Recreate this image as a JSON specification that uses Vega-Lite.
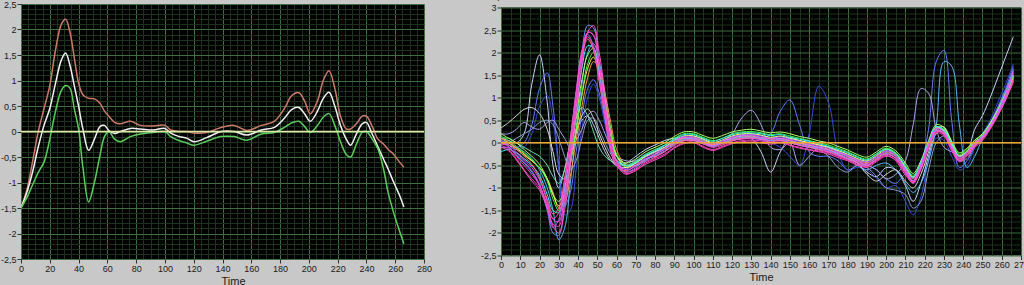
{
  "$schema": "https://vega.github.io/schema/vega-lite/v6.json",
  "background": "#c8c8c8",
  "padding": {"left": 0, "top": -10, "right": 0, "bottom": 0},
  "spacing": 48,
  "center": true,
  "resolve": {"scale": {"color": "independent"}},
  "config": {
    "view": {"fill": "#000000", "stroke": null},
    "axis": {
      "labelFont": "Liberation Sans", "labelFontSize": 9, "labelColor": "#1a1a1a",
      "titleFont": "Liberation Sans", "titleFontSize": 11, "titleFontWeight": "normal", "titleColor": "#1a1a1a",
      "domain": false, "tickColor": "#303030", "tickSize": 4, "labelPadding": 1, "titlePadding": 2,
      "labelOverlap": false, "labelFlush": false, "labelBound": false, "gridWidth": 1
    }
  },
  "hconcat": [
    {
      "width": 403, "height": 255,
      "data": {"values": [
        {"t":0,"r":-1.5,"w":-1.5,"g":-1.5},
        {"t":4,"r":-1.15,"w":-1.2,"g":-1.3},
        {"t":8,"r":-0.6,"w":-0.8,"g":-1.05},
        {"t":12,"r":0.0,"w":-0.3,"g":-0.8},
        {"t":16,"r":0.45,"w":0.12,"g":-0.6},
        {"t":20,"r":0.9,"w":0.45,"g":-0.15},
        {"t":24,"r":1.6,"w":0.95,"g":0.4},
        {"t":28,"r":2.1,"w":1.4,"g":0.8},
        {"t":31,"r":2.2,"w":1.54,"g":0.9},
        {"t":34,"r":1.95,"w":1.3,"g":0.85},
        {"t":37,"r":1.45,"w":0.9,"g":0.45},
        {"t":40,"r":0.95,"w":0.5,"g":0.05},
        {"t":43,"r":0.72,"w":0.05,"g":-0.7},
        {"t":47,"r":0.65,"w":-0.37,"g":-1.38},
        {"t":51,"r":0.64,"w":-0.15,"g":-1.0},
        {"t":55,"r":0.55,"w":0.1,"g":-0.45},
        {"t":58,"r":0.4,"w":0.12,"g":-0.1},
        {"t":61,"r":0.3,"w":0.02,"g":0.0},
        {"t":65,"r":0.18,"w":-0.04,"g":-0.15},
        {"t":69,"r":0.15,"w":0.0,"g":-0.2},
        {"t":76,"r":0.2,"w":0.06,"g":-0.1},
        {"t":83,"r":0.12,"w":0.05,"g":-0.05},
        {"t":92,"r":0.11,"w":0.03,"g":-0.02},
        {"t":100,"r":0.12,"w":0.06,"g":0.0},
        {"t":104,"r":0.03,"w":-0.03,"g":-0.1},
        {"t":110,"r":0.0,"w":-0.1,"g":-0.18},
        {"t":115,"r":0.0,"w":-0.13,"g":-0.22},
        {"t":120,"r":-0.03,"w":-0.2,"g":-0.27},
        {"t":129,"r":-0.02,"w":-0.12,"g":-0.19},
        {"t":139,"r":0.08,"w":0.0,"g":-0.1},
        {"t":148,"r":0.12,"w":0.0,"g":-0.1},
        {"t":157,"r":0.02,"w":-0.07,"g":-0.17},
        {"t":167,"r":0.12,"w":0.03,"g":-0.05},
        {"t":176,"r":0.2,"w":0.08,"g":-0.02},
        {"t":183,"r":0.45,"w":0.26,"g":0.08},
        {"t":188,"r":0.7,"w":0.43,"g":0.17},
        {"t":193,"r":0.76,"w":0.47,"g":0.2},
        {"t":197,"r":0.6,"w":0.35,"g":0.1},
        {"t":201,"r":0.35,"w":0.2,"g":-0.02},
        {"t":206,"r":0.6,"w":0.4,"g":0.12},
        {"t":210,"r":1.0,"w":0.65,"g":0.28},
        {"t":214,"r":1.19,"w":0.77,"g":0.35},
        {"t":218,"r":0.85,"w":0.5,"g":0.12},
        {"t":222,"r":0.3,"w":0.12,"g":-0.2},
        {"t":226,"r":0.05,"w":-0.15,"g":-0.45},
        {"t":229,"r":0.05,"w":-0.27,"g":-0.5},
        {"t":233,"r":0.15,"w":-0.05,"g":-0.25},
        {"t":237,"r":0.3,"w":0.15,"g":-0.02},
        {"t":240,"r":0.3,"w":0.18,"g":0.0},
        {"t":244,"r":0.1,"w":-0.05,"g":-0.15},
        {"t":248,"r":-0.15,"w":-0.3,"g":-0.34},
        {"t":252,"r":-0.25,"w":-0.55,"g":-0.75},
        {"t":255,"r":-0.35,"w":-0.73,"g":-1.19},
        {"t":259,"r":-0.45,"w":-1.0,"g":-1.6},
        {"t":263,"r":-0.6,"w":-1.25,"g":-1.95},
        {"t":266,"r":-0.7,"w":-1.48,"g":-2.2}
      ]},
      "layer": [
        {
          "transform": [{"fold": ["r", "w", "g"], "as": ["s", "v"]}],
          "mark": {"type": "line", "interpolate": "catmull-rom", "strokeWidth": 1.5, "clip": true},
          "encoding": {
            "x": {"field": "t", "type": "quantitative", "title": "Time",
              "scale": {"domain": [0, 280], "nice": false, "zero": false},
              "axis": {
                "labelOverlap": false, "titleX": 212,
                "values": [0,5,10,15,20,25,30,35,40,45,50,55,60,65,70,75,80,85,90,95,100,105,110,115,120,125,130,135,140,145,150,155,160,165,170,175,180,185,190,195,200,205,210,215,220,225,230,235,240,245,250,255,260,265,270,275,280],
                "labelExpr": "datum.value % 20 === 0 ? datum.label : ''",
                "gridColor": {"condition": {"test": "datum.value % 20 === 0", "value": "#3f6e3f"}, "value": "#1c321c"},
                "tickOpacity": {"condition": {"test": "datum.value % 20 === 0", "value": 1}, "value": 0}
              }},
            "y": {"field": "v", "type": "quantitative", "title": null,
              "scale": {"domain": [-2.5, 2.5], "nice": false, "zero": false},
              "axis": {
                "labelOverlap": false,
                "values": [-2.5,-2.4,-2.3,-2.2,-2.1,-2,-1.9,-1.8,-1.7,-1.6,-1.5,-1.4,-1.3,-1.2,-1.1,-1,-0.9,-0.8,-0.7,-0.6,-0.5,-0.4,-0.3,-0.2,-0.1,0,0.1,0.2,0.3,0.4,0.5,0.6,0.7,0.8,0.9,1,1.1,1.2,1.3,1.4,1.5,1.6,1.7,1.8,1.9,2,2.1,2.2,2.3,2.4,2.5],
                "labelExpr": "datum.value * 2 === round(datum.value * 2) ? replace(toString(datum.value), '.', ',') : ''",
                "gridColor": {"condition": {"test": "datum.value * 2 === round(datum.value * 2)", "value": "#3f6e3f"}, "value": "#1c321c"},
                "tickOpacity": {"condition": {"test": "datum.value * 2 === round(datum.value * 2)", "value": 1}, "value": 0}
              }},
            "color": {"field": "s", "type": "nominal", "legend": null,
              "scale": {"domain": ["r", "w", "g"], "range": ["#cc7a6a", "#f2f2f2", "#5ccc5c"]}}
          }
        },
        {
          "data": {"values": [{"v": 0}]},
          "mark": {"type": "rule", "color": "#e0e8a8", "strokeWidth": 1.5},
          "encoding": {
            "y": {"field": "v", "type": "quantitative", "title": null,
              "scale": {"domain": [-2.5, 2.5], "nice": false, "zero": false},
              "axis": {
                "labelOverlap": false,
                "values": [-2.5,-2.4,-2.3,-2.2,-2.1,-2,-1.9,-1.8,-1.7,-1.6,-1.5,-1.4,-1.3,-1.2,-1.1,-1,-0.9,-0.8,-0.7,-0.6,-0.5,-0.4,-0.3,-0.2,-0.1,0,0.1,0.2,0.3,0.4,0.5,0.6,0.7,0.8,0.9,1,1.1,1.2,1.3,1.4,1.5,1.6,1.7,1.8,1.9,2,2.1,2.2,2.3,2.4,2.5],
                "labelExpr": "datum.value * 2 === round(datum.value * 2) ? replace(toString(datum.value), '.', ',') : ''",
                "gridColor": {"condition": {"test": "datum.value * 2 === round(datum.value * 2)", "value": "#3f6e3f"}, "value": "#1c321c"},
                "tickOpacity": {"condition": {"test": "datum.value * 2 === round(datum.value * 2)", "value": 1}, "value": 0}
              }}
          }
        }
      ]
    },
    {
      "width": 520, "height": 248,
      "title": {"text": "Graph 3", "anchor": "start", "frame": "bounds", "fontSize": 10, "fontWeight": "normal", "font": "Liberation Sans", "color": "#1a1a1a", "offset": 3},
      "data": {"values": [
        {"t":0,"o1":0.1,"o2":0.0,"o3":-0.1,"o4":0.05,"o5":0.33,"o6":0.2,"o7":0.1,"o8":-0.05,"p01":0.0,"p02":0.1,"p03":0.15,"p04":0.2,"p05":-0.2,"p06":0.1,"p07":0.05,"p08":-0.1,"p09":0.05,"p10":0.0,"p11":-0.05,"p12":-0.1},
        {"t":4,"o1":0.05,"o2":-0.05,"o3":-0.1,"o4":0.0,"o5":0.45,"o6":0.2,"o7":0.1,"o8":0.0,"p01":-0.05,"p02":0.0,"p03":0.05,"p04":0.1,"p05":-0.15,"p06":0.02,"p07":-0.08,"p08":-0.12,"p09":-0.05,"p10":-0.1,"p11":-0.15,"p12":-0.18},
        {"t":8,"o1":0.0,"o2":-0.1,"o3":-0.15,"o4":-0.1,"o5":0.6,"o6":0.3,"o7":0.0,"o8":0.1,"p01":-0.15,"p02":-0.12,"p03":-0.08,"p04":0.0,"p05":-0.22,"p06":-0.12,"p07":-0.28,"p08":-0.25,"p09":-0.2,"p10":-0.3,"p11":-0.35,"p12":-0.38},
        {"t":12,"o1":0.2,"o2":0.0,"o3":-0.1,"o4":-0.2,"o5":0.74,"o6":0.45,"o7":-0.1,"o8":0.2,"p01":-0.28,"p02":-0.25,"p03":-0.22,"p04":-0.15,"p05":-0.35,"p06":-0.3,"p07":-0.45,"p08":-0.42,"p09":-0.38,"p10":-0.5,"p11":-0.6,"p12":-0.62},
        {"t":16,"o1":1.3,"o2":0.4,"o3":0.2,"o4":-0.35,"o5":0.78,"o6":0.35,"o7":-0.2,"o8":0.3,"p01":-0.4,"p02":-0.4,"p03":-0.38,"p04":-0.3,"p05":-0.5,"p06":-0.48,"p07":-0.65,"p08":-0.62,"p09":-0.55,"p10":-0.7,"p11":-0.8,"p12":-0.85},
        {"t":20,"o1":1.95,"o2":1.2,"o3":0.8,"o4":-0.6,"o5":0.65,"o6":0.3,"o7":-0.3,"o8":0.45,"p01":-0.55,"p02":-0.55,"p03":-0.55,"p04":-0.48,"p05":-0.72,"p06":-0.78,"p07":-0.95,"p08":-0.92,"p09":-0.82,"p10":-0.95,"p11":-1.0,"p12":-1.05},
        {"t":24,"o1":0.9,"o2":1.55,"o3":1.05,"o4":-1.0,"o5":0.3,"o6":0.45,"o7":-0.5,"o8":0.5,"p01":-0.8,"p02":-0.8,"p03":-0.85,"p04":-0.8,"p05":-1.15,"p06":-1.25,"p07":-1.5,"p08":-1.45,"p09":-1.3,"p10":-1.35,"p11":-1.4,"p12":-1.45},
        {"t":27,"o1":-0.5,"o2":0.8,"o3":0.5,"o4":-1.5,"o5":-0.2,"o6":0.5,"o7":-0.75,"o8":0.4,"p01":-1.1,"p02":-1.15,"p03":-1.25,"p04":-1.15,"p05":-1.5,"p06":-1.58,"p07":-2.0,"p08":-1.88,"p09":-1.7,"p10":-1.68,"p11":-1.8,"p12":-1.85},
        {"t":30,"o1":-1.0,"o2":-0.5,"o3":-0.6,"o4":-2.15,"o5":-0.7,"o6":0.3,"o7":-0.9,"o8":0.1,"p01":-1.45,"p02":-1.4,"p03":-1.5,"p04":-1.3,"p05":-1.55,"p06":-1.45,"p07":-2.05,"p08":-1.7,"p09":-1.75,"p10":-1.55,"p11":-1.85,"p12":-2.0},
        {"t":33,"o1":-0.6,"o2":-1.4,"o3":-1.6,"o4":-1.9,"o5":-0.8,"o6":0.1,"o7":-0.6,"o8":-0.3,"p01":-1.35,"p02":-1.15,"p03":-1.25,"p04":-1.0,"p05":-1.05,"p06":-0.8,"p07":-1.35,"p08":-0.95,"p09":-1.15,"p10":-0.85,"p11":-1.25,"p12":-1.5},
        {"t":36,"o1":0.0,"o2":-1.1,"o3":-1.5,"o4":-0.9,"o5":-0.4,"o6":-0.1,"o7":0.0,"o8":-0.6,"p01":-0.75,"p02":-0.45,"p03":-0.5,"p04":-0.3,"p05":-0.2,"p06":0.1,"p07":-0.25,"p08":0.05,"p09":-0.2,"p10":0.05,"p11":-0.25,"p12":-0.5},
        {"t":39,"o1":0.3,"o2":-0.2,"o3":-0.6,"o4":0.3,"o5":0.2,"o6":0.05,"o7":0.55,"o8":-0.4,"p01":0.05,"p02":0.28,"p03":0.3,"p04":0.55,"p05":0.78,"p06":1.1,"p07":0.95,"p08":1.15,"p09":0.9,"p10":1.1,"p11":0.85,"p12":0.6},
        {"t":42,"o1":0.5,"o2":0.6,"o3":0.3,"o4":1.3,"o5":0.6,"o6":0.3,"o7":0.78,"o8":0.1,"p01":0.8,"p02":1.05,"p03":1.1,"p04":1.4,"p05":1.65,"p06":1.95,"p07":2.0,"p08":2.05,"p09":1.9,"p10":2.0,"p11":1.85,"p12":1.7},
        {"t":45,"o1":0.6,"o2":1.2,"o3":1.0,"o4":2.0,"o5":0.75,"o6":0.6,"o7":0.6,"o8":0.5,"p01":1.45,"p02":1.65,"p03":1.75,"p04":1.95,"p05":2.15,"p06":2.3,"p07":2.6,"p08":2.4,"p09":2.45,"p10":2.35,"p11":2.45,"p12":2.45},
        {"t":48,"o1":0.4,"o2":1.4,"o3":1.3,"o4":2.2,"o5":0.55,"o6":0.7,"o7":0.25,"o8":0.55,"p01":1.8,"p02":1.9,"p03":2.0,"p04":2.1,"p05":2.1,"p06":2.05,"p07":2.55,"p08":2.15,"p09":2.38,"p10":2.1,"p11":2.4,"p12":2.6},
        {"t":51,"o1":0.1,"o2":1.1,"o3":1.0,"o4":1.8,"o5":0.2,"o6":0.5,"o7":-0.1,"o8":0.3,"p01":1.65,"p02":1.55,"p03":1.65,"p04":1.65,"p05":1.5,"p06":1.35,"p07":1.8,"p08":1.45,"p09":1.7,"p10":1.4,"p11":1.7,"p12":2.0},
        {"t":54,"o1":-0.2,"o2":0.5,"o3":0.4,"o4":1.0,"o5":-0.1,"o6":0.2,"o7":-0.3,"o8":0.0,"p01":1.1,"p02":0.95,"p03":1.0,"p04":0.9,"p05":0.72,"p06":0.55,"p07":0.85,"p08":0.6,"p09":0.82,"p10":0.6,"p11":0.85,"p12":1.1},
        {"t":57,"o1":-0.4,"o2":-0.1,"o3":-0.2,"o4":0.2,"o5":-0.35,"o6":-0.1,"o7":-0.4,"o8":-0.25,"p01":0.45,"p02":0.28,"p03":0.3,"p04":0.15,"p05":0.0,"p06":-0.18,"p07":-0.05,"p08":-0.15,"p09":0.0,"p10":-0.15,"p11":0.0,"p12":0.2},
        {"t":60,"o1":-0.5,"o2":-0.4,"o3":-0.5,"o4":-0.3,"o5":-0.5,"o6":-0.3,"o7":-0.45,"o8":-0.4,"p01":-0.15,"p02":-0.28,"p03":-0.25,"p04":-0.3,"p05":-0.38,"p06":-0.52,"p07":-0.5,"p08":-0.5,"p09":-0.42,"p10":-0.5,"p11":-0.45,"p12":-0.4},
        {"t":65,"o1":-0.45,"o2":-0.5,"o3":-0.55,"o4":-0.5,"o5":-0.55,"o6":-0.4,"o7":-0.5,"o8":-0.5,"p01":-0.5,"p02":-0.55,"p03":-0.5,"p04":-0.45,"p05":-0.52,"p06":-0.62,"p07":-0.65,"p08":-0.58,"p09":-0.6,"p10":-0.7,"p11":-0.68,"p12":-0.65},
        {"t":70,"o1":-0.3,"o2":-0.4,"o3":-0.45,"o4":-0.5,"o5":-0.45,"o6":-0.4,"o7":-0.45,"o8":-0.4,"p01":-0.5,"p02":-0.45,"p03":-0.42,"p04":-0.36,"p05":-0.44,"p06":-0.5,"p07":-0.55,"p08":-0.48,"p09":-0.52,"p10":-0.6,"p11":-0.62,"p12":-0.58},
        {"t":75,"o1":-0.15,"o2":-0.25,"o3":-0.3,"o4":-0.4,"o5":-0.3,"o6":-0.3,"o7":-0.3,"o8":-0.3,"p01":-0.38,"p02":-0.3,"p03":-0.26,"p04":-0.2,"p05":-0.28,"p06":-0.36,"p07":-0.38,"p08":-0.33,"p09":-0.36,"p10":-0.48,"p11":-0.45,"p12":-0.42},
        {"t":80,"o1":-0.05,"o2":-0.15,"o3":-0.2,"o4":-0.25,"o5":-0.2,"o6":-0.2,"o7":-0.2,"o8":-0.2,"p01":-0.25,"p02":-0.2,"p03":-0.15,"p04":-0.1,"p05":-0.18,"p06":-0.3,"p07":-0.28,"p08":-0.22,"p09":-0.26,"p10":-0.38,"p11":-0.35,"p12":-0.32},
        {"t":85,"o1":0.05,"o2":-0.05,"o3":-0.1,"o4":-0.1,"o5":-0.1,"o6":-0.1,"o7":-0.1,"o8":-0.12,"p01":-0.15,"p02":-0.1,"p03":-0.05,"p04":0.0,"p05":-0.06,"p06":-0.2,"p07":-0.18,"p08":-0.12,"p09":-0.14,"p10":-0.28,"p11":-0.25,"p12":-0.2},
        {"t":90,"o1":0.1,"o2":0.05,"o3":0.0,"o4":0.05,"o5":0.0,"o6":0.0,"o7":0.05,"o8":-0.02,"p01":0.0,"p02":0.05,"p03":0.1,"p04":0.14,"p05":0.08,"p06":-0.04,"p07":-0.02,"p08":0.04,"p09":0.02,"p10":-0.12,"p11":-0.1,"p12":-0.06},
        {"t":95,"o1":0.1,"o2":0.1,"o3":0.08,"o4":0.1,"o5":0.1,"o6":0.05,"o7":0.15,"o8":0.05,"p01":0.1,"p02":0.15,"p03":0.2,"p04":0.24,"p05":0.18,"p06":0.06,"p07":0.08,"p08":0.14,"p09":0.12,"p10":-0.02,"p11":0.0,"p12":0.04},
        {"t":100,"o1":0.08,"o2":0.1,"o3":0.1,"o4":0.08,"o5":0.1,"o6":0.05,"o7":0.15,"o8":0.08,"p01":0.12,"p02":0.15,"p03":0.2,"p04":0.24,"p05":0.18,"p06":0.06,"p07":0.08,"p08":0.13,"p09":0.1,"p10":0.0,"p11":0.02,"p12":0.05},
        {"t":105,"o1":0.0,"o2":0.05,"o3":0.05,"o4":0.0,"o5":0.05,"o6":0.0,"o7":0.08,"o8":0.02,"p01":0.04,"p02":0.08,"p03":0.12,"p04":0.16,"p05":0.1,"p06":-0.02,"p07":0.0,"p08":0.05,"p09":0.0,"p10":-0.1,"p11":-0.08,"p12":-0.03},
        {"t":110,"o1":-0.05,"o2":-0.05,"o3":-0.05,"o4":-0.05,"o5":0.0,"o6":-0.05,"o7":0.0,"o8":-0.06,"p01":-0.04,"p02":0.0,"p03":0.05,"p04":0.1,"p05":0.03,"p06":-0.08,"p07":-0.08,"p08":-0.02,"p09":-0.06,"p10":-0.17,"p11":-0.15,"p12":-0.1},
        {"t":115,"o1":0.05,"o2":0.0,"o3":0.0,"o4":0.0,"o5":0.05,"o6":0.05,"o7":0.06,"o8":0.0,"p01":0.0,"p02":0.06,"p03":0.1,"p04":0.16,"p05":0.1,"p06":-0.02,"p07":0.0,"p08":0.05,"p09":0.02,"p10":-0.1,"p11":-0.08,"p12":-0.05},
        {"t":120,"o1":0.1,"o2":0.08,"o3":0.05,"o4":0.05,"o5":0.1,"o6":0.2,"o7":0.14,"o8":0.06,"p01":0.08,"p02":0.15,"p03":0.2,"p04":0.24,"p05":0.18,"p06":0.06,"p07":0.08,"p08":0.13,"p09":0.1,"p10":-0.02,"p11":0.0,"p12":0.04},
        {"t":125,"o1":0.15,"o2":0.1,"o3":0.1,"o4":0.1,"o5":0.15,"o6":0.55,"o7":0.18,"o8":0.1,"p01":0.12,"p02":0.2,"p03":0.24,"p04":0.28,"p05":0.22,"p06":0.1,"p07":0.12,"p08":0.17,"p09":0.16,"p10":0.02,"p11":0.05,"p12":0.08},
        {"t":130,"o1":0.1,"o2":0.12,"o3":0.1,"o4":0.12,"o5":0.15,"o6":0.72,"o7":0.2,"o8":0.12,"p01":0.14,"p02":0.2,"p03":0.25,"p04":0.3,"p05":0.22,"p06":0.12,"p07":0.13,"p08":0.18,"p09":0.17,"p10":0.04,"p11":0.06,"p12":0.1},
        {"t":135,"o1":-0.2,"o2":0.1,"o3":0.05,"o4":0.08,"o5":0.1,"o6":0.4,"o7":0.16,"o8":0.1,"p01":0.12,"p02":0.17,"p03":0.22,"p04":0.26,"p05":0.2,"p06":0.08,"p07":0.1,"p08":0.15,"p09":0.12,"p10":0.0,"p11":0.04,"p12":0.07},
        {"t":140,"o1":-0.65,"o2":0.2,"o3":0.0,"o4":0.05,"o5":0.1,"o6":-0.1,"o7":0.12,"o8":0.05,"p01":0.08,"p02":0.12,"p03":0.18,"p04":0.22,"p05":0.16,"p06":0.04,"p07":0.05,"p08":0.1,"p09":0.08,"p10":-0.03,"p11":0.0,"p12":0.02},
        {"t":145,"o1":-0.2,"o2":0.7,"o3":-0.1,"o4":0.05,"o5":0.1,"o6":-0.15,"o7":0.14,"o8":0.05,"p01":0.08,"p02":0.15,"p03":0.2,"p04":0.24,"p05":0.18,"p06":0.06,"p07":0.08,"p08":0.13,"p09":0.1,"p10":0.0,"p11":0.02,"p12":0.05},
        {"t":150,"o1":0.1,"o2":0.95,"o3":-0.3,"o4":0.0,"o5":0.05,"o6":0.0,"o7":0.1,"o8":0.0,"p01":0.04,"p02":0.1,"p03":0.15,"p04":0.2,"p05":0.12,"p06":0.0,"p07":0.02,"p08":0.08,"p09":0.06,"p10":-0.06,"p11":-0.05,"p12":0.0},
        {"t":155,"o1":0.05,"o2":0.4,"o3":-0.5,"o4":-0.05,"o5":0.0,"o6":-0.5,"o7":0.04,"o8":-0.05,"p01":-0.02,"p02":0.05,"p03":0.1,"p04":0.14,"p05":0.08,"p06":-0.05,"p07":-0.04,"p08":0.03,"p09":0.0,"p10":-0.12,"p11":-0.1,"p12":-0.06},
        {"t":160,"o1":0.0,"o2":-0.2,"o3":0.2,"o4":-0.1,"o5":-0.05,"o6":-0.3,"o7":0.0,"o8":-0.1,"p01":-0.06,"p02":0.0,"p03":0.05,"p04":0.1,"p05":0.03,"p06":-0.1,"p07":-0.08,"p08":-0.02,"p09":-0.04,"p10":-0.16,"p11":-0.15,"p12":-0.1},
        {"t":165,"o1":-0.05,"o2":-0.3,"o3":1.25,"o4":-0.1,"o5":-0.1,"o6":-0.1,"o7":-0.05,"o8":-0.15,"p01":-0.1,"p02":-0.05,"p03":0.0,"p04":0.04,"p05":-0.02,"p06":-0.14,"p07":-0.12,"p08":-0.07,"p09":-0.1,"p10":-0.2,"p11":-0.18,"p12":-0.15},
        {"t":170,"o1":-0.1,"o2":-0.3,"o3":0.9,"o4":-0.15,"o5":-0.15,"o6":-0.1,"o7":-0.1,"o8":-0.3,"p01":-0.15,"p02":-0.1,"p03":-0.05,"p04":0.0,"p05":-0.08,"p06":-0.2,"p07":-0.18,"p08":-0.12,"p09":-0.16,"p10":-0.25,"p11":-0.22,"p12":-0.2},
        {"t":175,"o1":-0.2,"o2":-0.4,"o3":-0.2,"o4":-0.25,"o5":-0.25,"o6":-0.2,"o7":-0.18,"o8":-0.55,"p01":-0.22,"p02":-0.17,"p03":-0.12,"p04":-0.08,"p05":-0.15,"p06":-0.26,"p07":-0.25,"p08":-0.2,"p09":-0.22,"p10":-0.33,"p11":-0.3,"p12":-0.28},
        {"t":180,"o1":-0.3,"o2":-0.6,"o3":-0.6,"o4":-0.35,"o5":-0.35,"o6":-0.3,"o7":-0.26,"o8":-0.65,"p01":-0.3,"p02":-0.25,"p03":-0.2,"p04":-0.16,"p05":-0.22,"p06":-0.34,"p07":-0.34,"p08":-0.27,"p09":-0.3,"p10":-0.4,"p11":-0.38,"p12":-0.36},
        {"t":185,"o1":-0.45,"o2":-0.5,"o3":-0.55,"o4":-0.5,"o5":-0.45,"o6":-0.4,"o7":-0.36,"o8":-0.5,"p01":-0.38,"p02":-0.35,"p03":-0.3,"p04":-0.26,"p05":-0.32,"p06":-0.42,"p07":-0.44,"p08":-0.37,"p09":-0.4,"p10":-0.5,"p11":-0.48,"p12":-0.45},
        {"t":190,"o1":-0.65,"o2":-0.5,"o3":-0.6,"o4":-0.6,"o5":-0.7,"o6":-0.5,"o7":-0.42,"o8":-0.55,"p01":-0.44,"p02":-0.4,"p03":-0.36,"p04":-0.32,"p05":-0.38,"p06":-0.48,"p07":-0.5,"p08":-0.42,"p09":-0.46,"p10":-0.52,"p11":-0.55,"p12":-0.5},
        {"t":195,"o1":-0.75,"o2":-0.6,"o3":-0.8,"o4":-0.5,"o5":-0.85,"o6":-0.6,"o7":-0.3,"o8":-0.75,"p01":-0.34,"p02":-0.28,"p03":-0.24,"p04":-0.2,"p05":-0.25,"p06":-0.36,"p07":-0.36,"p08":-0.3,"p09":-0.32,"p10":-0.4,"p11":-0.42,"p12":-0.38},
        {"t":200,"o1":-0.55,"o2":-0.8,"o3":-1.0,"o4":-0.45,"o5":-0.7,"o6":-0.8,"o7":-0.18,"o8":-1.0,"p01":-0.22,"p02":-0.15,"p03":-0.12,"p04":-0.08,"p05":-0.14,"p06":-0.24,"p07":-0.24,"p08":-0.18,"p09":-0.2,"p10":-0.28,"p11":-0.3,"p12":-0.26},
        {"t":205,"o1":-0.6,"o2":-0.9,"o3":-0.95,"o4":-0.6,"o5":-0.6,"o6":-0.7,"o7":-0.28,"o8":-1.05,"p01":-0.3,"p02":-0.25,"p03":-0.22,"p04":-0.18,"p05":-0.24,"p06":-0.34,"p07":-0.34,"p08":-0.28,"p09":-0.3,"p10":-0.4,"p11":-0.38,"p12":-0.35},
        {"t":210,"o1":-0.95,"o2":-0.7,"o3":-1.3,"o4":-0.9,"o5":-0.85,"o6":-0.4,"o7":-0.56,"o8":-1.15,"p01":-0.58,"p02":-0.55,"p03":-0.5,"p04":-0.45,"p05":-0.52,"p06":-0.62,"p07":-0.64,"p08":-0.58,"p09":-0.6,"p10":-0.72,"p11":-0.68,"p12":-0.65},
        {"t":214,"o1":-1.3,"o2":-0.9,"o3":-1.6,"o4":-1.1,"o5":-1.0,"o6":0.4,"o7":-0.78,"o8":-1.45,"p01":-0.8,"p02":-0.76,"p03":-0.72,"p04":-0.68,"p05":-0.75,"p06":-0.84,"p07":-0.88,"p08":-0.8,"p09":-0.84,"p10":-0.88,"p11":-0.9,"p12":-0.86},
        {"t":218,"o1":-0.9,"o2":-0.5,"o3":-1.2,"o4":-0.9,"o5":-0.7,"o6":1.2,"o7":-0.46,"o8":-1.3,"p01":-0.52,"p02":-0.48,"p03":-0.45,"p04":-0.4,"p05":-0.44,"p06":-0.52,"p07":-0.54,"p08":-0.48,"p09":-0.5,"p10":-0.55,"p11":-0.6,"p12":-0.58},
        {"t":222,"o1":-0.3,"o2":0.3,"o3":-0.4,"o4":-0.4,"o5":-0.2,"o6":1.1,"o7":0.0,"o8":-0.6,"p01":-0.06,"p02":-0.02,"p03":0.0,"p04":0.05,"p05":0.02,"p06":-0.08,"p07":-0.08,"p08":-0.02,"p09":-0.04,"p10":-0.1,"p11":-0.12,"p12":-0.1},
        {"t":226,"o1":0.2,"o2":1.8,"o3":0.1,"o4":0.4,"o5":0.3,"o6":0.3,"o7":0.34,"o8":0.0,"p01":0.28,"p02":0.33,"p03":0.35,"p04":0.4,"p05":0.36,"p06":0.28,"p07":0.28,"p08":0.32,"p09":0.32,"p10":0.25,"p11":0.22,"p12":0.26},
        {"t":230,"o1":0.3,"o2":2.05,"o3":0.05,"o4":1.8,"o5":0.35,"o6":-0.1,"o7":0.26,"o8":0.15,"p01":0.22,"p02":0.26,"p03":0.3,"p04":0.34,"p05":0.28,"p06":0.2,"p07":0.2,"p08":0.24,"p09":0.24,"p10":0.18,"p11":0.15,"p12":0.2},
        {"t":234,"o1":0.0,"o2":0.5,"o3":-0.3,"o4":1.7,"o5":0.0,"o6":-0.2,"o7":-0.06,"o8":-0.1,"p01":-0.08,"p02":-0.05,"p03":0.0,"p04":0.04,"p05":-0.04,"p06":-0.12,"p07":-0.14,"p08":-0.08,"p09":-0.1,"p10":-0.15,"p11":-0.18,"p12":-0.12},
        {"t":238,"o1":-0.3,"o2":-0.55,"o3":-0.6,"o4":0.4,"o5":-0.3,"o6":-0.3,"o7":-0.3,"o8":-0.4,"p01":-0.32,"p02":-0.28,"p03":-0.25,"p04":-0.22,"p05":-0.3,"p06":-0.36,"p07":-0.4,"p08":-0.32,"p09":-0.35,"p10":-0.4,"p11":-0.42,"p12":-0.38},
        {"t":242,"o1":-0.2,"o2":-0.4,"o3":-0.5,"o4":-0.55,"o5":-0.2,"o6":-0.2,"o7":-0.2,"o8":-0.35,"p01":-0.22,"p02":-0.18,"p03":-0.15,"p04":-0.12,"p05":-0.2,"p06":-0.24,"p07":-0.28,"p08":-0.2,"p09":-0.22,"p10":-0.28,"p11":-0.3,"p12":-0.26},
        {"t":246,"o1":0.3,"o2":-0.1,"o3":-0.1,"o4":-0.3,"o5":0.0,"o6":0.0,"o7":0.0,"o8":-0.05,"p01":-0.02,"p02":0.02,"p03":0.05,"p04":0.06,"p05":0.0,"p06":-0.04,"p07":-0.06,"p08":0.0,"p09":0.0,"p10":-0.08,"p11":-0.1,"p12":-0.06},
        {"t":250,"o1":0.6,"o2":0.2,"o3":0.2,"o4":0.1,"o5":0.15,"o6":0.15,"o7":0.14,"o8":0.15,"p01":0.12,"p02":0.15,"p03":0.18,"p04":0.2,"p05":0.15,"p06":0.1,"p07":0.08,"p08":0.14,"p09":0.14,"p10":0.08,"p11":0.05,"p12":0.1},
        {"t":254,"o1":1.0,"o2":0.45,"o3":0.5,"o4":0.4,"o5":0.4,"o6":0.4,"o7":0.38,"o8":0.4,"p01":0.34,"p02":0.4,"p03":0.42,"p04":0.44,"p05":0.36,"p06":0.34,"p07":0.32,"p08":0.38,"p09":0.38,"p10":0.32,"p11":0.3,"p12":0.33},
        {"t":258,"o1":1.45,"o2":0.8,"o3":0.9,"o4":0.75,"o5":0.7,"o6":0.7,"o7":0.68,"o8":0.7,"p01":0.62,"p02":0.7,"p03":0.72,"p04":0.74,"p05":0.66,"p06":0.64,"p07":0.64,"p08":0.68,"p09":0.7,"p10":0.62,"p11":0.6,"p12":0.62},
        {"t":262,"o1":1.9,"o2":1.2,"o3":1.3,"o4":1.15,"o5":1.05,"o6":1.0,"o7":1.02,"o8":1.05,"p01":0.96,"p02":1.02,"p03":1.05,"p04":1.1,"p05":1.0,"p06":0.98,"p07":1.05,"p08":1.05,"p09":1.08,"p10":0.98,"p11":0.95,"p12":0.96},
        {"t":266,"o1":2.35,"o2":1.7,"o3":1.75,"o4":1.6,"o5":1.5,"o6":1.45,"o7":1.45,"o8":1.45,"p01":1.35,"p02":1.48,"p03":1.5,"p04":1.55,"p05":1.42,"p06":1.42,"p07":1.65,"p08":1.55,"p09":1.6,"p10":1.4,"p11":1.35,"p12":1.38}
      ]},
      "layer": [
        {
          "transform": [{"fold": ["o1","o2","o3","o4","o5","o6","o7","o8","p01","p02","p03","p04","p05","p06","p07","p08","p09","p10","p11","p12"], "as": ["s", "v"]}],
          "mark": {"type": "line", "interpolate": "catmull-rom", "strokeWidth": 1, "clip": true},
          "encoding": {
            "x": {"field": "t", "type": "quantitative", "title": "Time",
              "scale": {"domain": [0, 270], "nice": false, "zero": false},
              "axis": {
                "labelOverlap": false,
                "values": [0,5,10,15,20,25,30,35,40,45,50,55,60,65,70,75,80,85,90,95,100,105,110,115,120,125,130,135,140,145,150,155,160,165,170,175,180,185,190,195,200,205,210,215,220,225,230,235,240,245,250,255,260,265,270],
                "labelExpr": "datum.value % 10 === 0 ? datum.label : ''",
                "gridColor": {"condition": {"test": "datum.value % 10 === 0", "value": "#3f6e3f"}, "value": "#1c321c"},
                "tickOpacity": {"condition": {"test": "datum.value % 10 === 0", "value": 1}, "value": 0}
              }},
            "y": {"field": "v", "type": "quantitative", "title": null,
              "scale": {"domain": [-2.5, 3], "nice": false, "zero": false},
              "axis": {
                "labelOverlap": false,
                "values": [-2.5,-2.375,-2.25,-2.125,-2,-1.875,-1.75,-1.625,-1.5,-1.375,-1.25,-1.125,-1,-0.875,-0.75,-0.625,-0.5,-0.375,-0.25,-0.125,0,0.125,0.25,0.375,0.5,0.625,0.75,0.875,1,1.125,1.25,1.375,1.5,1.625,1.75,1.875,2,2.125,2.25,2.375,2.5,2.625,2.75,2.875,3],
                "labelExpr": "datum.value * 2 === round(datum.value * 2) ? replace(toString(datum.value), '.', ',') : ''",
                "gridColor": {"condition": {"test": "datum.value * 2 === round(datum.value * 2)", "value": "#3f6e3f"}, "value": "#1c321c"},
                "tickOpacity": {"condition": {"test": "datum.value * 2 === round(datum.value * 2)", "value": 1}, "value": 0}
              }},
            "color": {"field": "s", "type": "nominal", "legend": null,
              "scale": {
                "domain": ["o1","o2","o3","o4","o5","o6","o7","o8","p01","p02","p03","p04","p05","p06","p07","p08","p09","p10","p11","p12"],
                "range": ["#c8d4ff","#6a7cff","#3a4ad8","#58b8f8","#dcdcdc","#b4a4ec","#70e0b0","#8c9cd0","#ffa040","#ffff50","#40ff40","#b0ff70","#40f0ff","#ff7878","#7890ff","#a868ff","#e858ff","#ff48c8","#ff40b8","#ff58d0"]}}
          }
        },
        {
          "data": {"values": [{"v": 0}]},
          "mark": {"type": "rule", "color": "#f0a830", "strokeWidth": 1.5},
          "encoding": {
            "y": {"field": "v", "type": "quantitative", "title": null,
              "scale": {"domain": [-2.5, 3], "nice": false, "zero": false},
              "axis": {
                "labelOverlap": false,
                "values": [-2.5,-2.375,-2.25,-2.125,-2,-1.875,-1.75,-1.625,-1.5,-1.375,-1.25,-1.125,-1,-0.875,-0.75,-0.625,-0.5,-0.375,-0.25,-0.125,0,0.125,0.25,0.375,0.5,0.625,0.75,0.875,1,1.125,1.25,1.375,1.5,1.625,1.75,1.875,2,2.125,2.25,2.375,2.5,2.625,2.75,2.875,3],
                "labelExpr": "datum.value * 2 === round(datum.value * 2) ? replace(toString(datum.value), '.', ',') : ''",
                "gridColor": {"condition": {"test": "datum.value * 2 === round(datum.value * 2)", "value": "#3f6e3f"}, "value": "#1c321c"},
                "tickOpacity": {"condition": {"test": "datum.value * 2 === round(datum.value * 2)", "value": 1}, "value": 0}
              }}
          }
        }
      ]
    }
  ]
}
